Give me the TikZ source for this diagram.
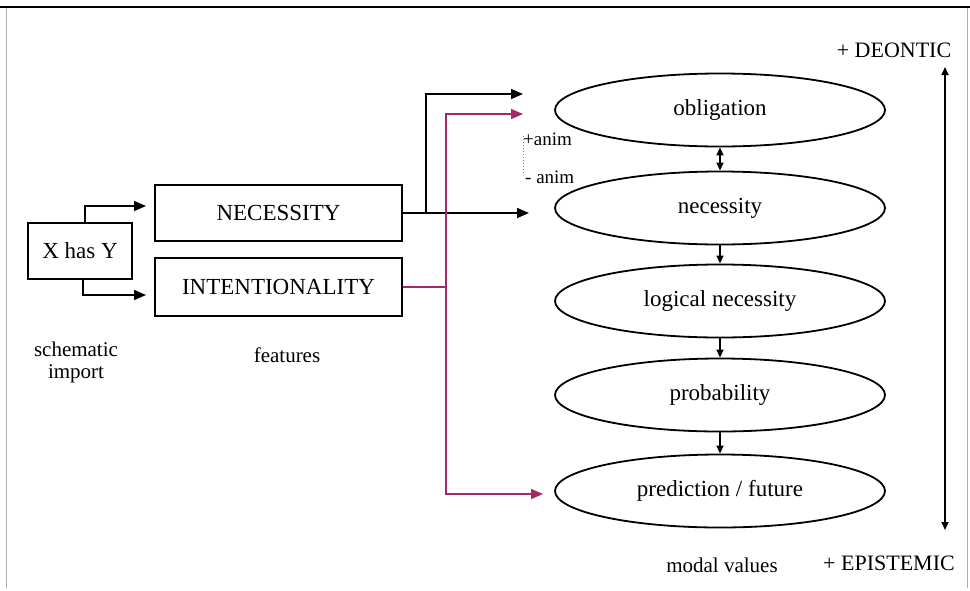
\documentclass[tikz,border=0pt]{standalone}
\usepackage{fontspec}
\setmainfont{Liberation Serif}
\usetikzlibrary{arrows.meta,shapes.geometric,calc}
\definecolor{magline}{RGB}{166,40,102}
\definecolor{frame}{RGB}{175,175,175}
\begin{document}
\begin{tikzpicture}[x=1pt,y=-1pt,
  every node/.style={font=\fontsize{23}{27}\selectfont},
  boxnode/.style={draw,line width=1.8pt,rectangle,inner sep=0pt},
  oval/.style={draw,line width=1.8pt,ellipse,minimum width=330pt,minimum height=73pt,inner sep=0pt},
  arr/.style={line width=1.6pt,-{Triangle[length=12pt,width=10pt]}},
  sarr/.style={line width=1.5pt,-{Triangle[length=8pt,width=7pt]}},
  darr/.style={line width=1.5pt,{Triangle[length=8pt,width=7pt]}-{Triangle[length=8pt,width=7pt]}},
  magarr/.style={line width=1.6pt,draw=magline,-{Triangle[length=12pt,width=10pt]},color=magline},
  lbl/.style={font=\fontsize{22}{26}\selectfont,align=center},
  captext/.style={font=\fontsize{21}{25}\selectfont,align=center},
  small/.style={font=\fontsize{19}{22}\selectfont,inner sep=0pt,anchor=west}
]
\useasboundingbox (0,0) rectangle (970,590);
% frame
\draw[line width=2.4pt] (0,7) -- (970,7);
\draw[frame,line width=1pt] (6,8) -- (6,588);
\draw[frame,line width=1pt] (967,8) -- (967,588);

% left boxes
\node[boxnode,minimum width=104pt,minimum height=56pt] (xy) at (80,251) {X has Y};
\node[boxnode,minimum width=247pt,minimum height=56pt] (nec) at (278.5,213) {NECESSITY};
\node[boxnode,minimum width=247pt,minimum height=58pt] (int) at (278.5,287) {INTENTIONALITY};

% ellipses
\node[oval] (ob) at (720,110) {obligation};
\node[oval] (ne) at (720,208) {necessity};
\node[oval] (ln) at (720,301) {logical necessity};
\node[oval] (pr) at (720,395) {probability};
\node[oval] (pf) at (720,491) {prediction / future};

% coordinates
\coordinate (xa) at (85,206);
\coordinate (xb) at (83,295);
\coordinate (nt) at (146,206);
\coordinate (it) at (146,295);
\coordinate (j1) at (426,213);
\coordinate (t1) at (523,94);
\coordinate (t2) at (529,213);
\coordinate (mj) at (446,287);
\coordinate (mt) at (523,114);
\coordinate (mb) at (543,494);
\coordinate (ra) at (945,67);
\coordinate (rb) at (945,530);

% X has Y arrows
\draw[arr] (xy.north -| xa) |- (nt);
\draw[arr] (xy.south -| xb) |- (it);

% necessity arrows
\draw[arr] (nec.east) -- (t2);
\draw[arr] (j1) |- (t1);

% magenta arrows
\draw[magline,line width=1.6pt] (int.east) -- (mj);
\draw[magarr] (mj) |- (mt);
\draw[magarr] (mj) |- (mb);

% anim labels
\draw[gray,dotted,line width=1pt] (523,136) -- (523,173);
\node[small] (pa) at (523,139) {+anim};
\node[small] (ma) at (525,177) {- anim};

% between ellipses
\draw[darr] (ob.south) -- (ne.north);
\draw[sarr] (ne.south) -- (ln.north);
\draw[sarr] (ln.south) -- (pr.north);
\draw[sarr] (pr.south) -- (pf.north);

% right axis
\draw[darr,line width=1.6pt] (ra) -- (rb);
\node[lbl] (deo) at (894,50) {+ DEONTIC};
\node[lbl] (epi) at (889,563) {+ EPISTEMIC};

% captions
\node[captext] (sch) at (76,362) {schematic\\[-3pt]import};
\node[captext] (fea) at (287,355) {features};
\node[captext] (mod) at (722,565) {modal values};
\end{tikzpicture}
\end{document}
